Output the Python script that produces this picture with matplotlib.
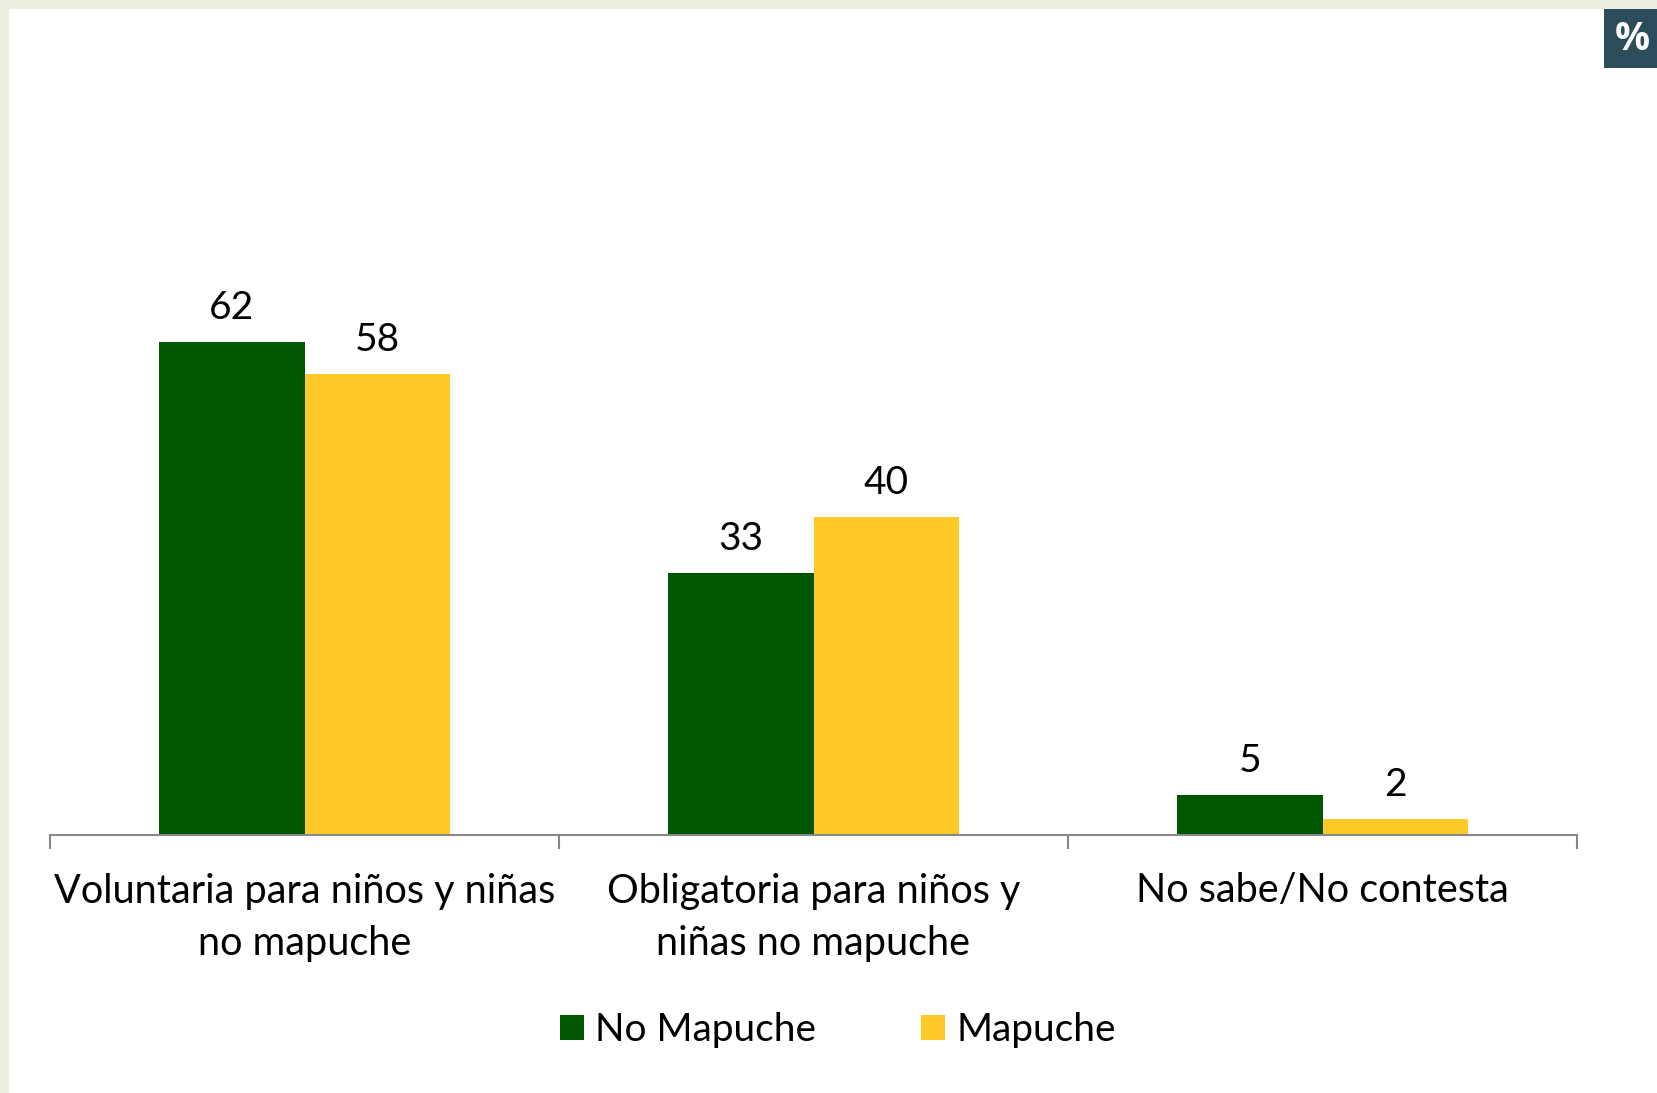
import matplotlib
matplotlib.use("Agg")
import matplotlib.pyplot as plt
from matplotlib.patches import Rectangle, Patch
import numpy as np

categories = ["Voluntaria para niños y niñas\nno mapuche",
              "Obligatoria para niños y\nniñas no mapuche",
              "No sabe/No contesta"]
series_names = ["No Mapuche", "Mapuche"]
no_mapuche = [62, 33, 5]
mapuche = [58, 40, 2]
colors = ["#005700", "#FFCA27"]

plt.rcParams['font.family'] = ['Lato', 'DejaVu Sans']

W, H = 1657, 1093
fig = plt.figure(figsize=(W/100, H/100), dpi=100)
fig.patch.set_facecolor("white")

# decorative border strips
fig.patches.append(Rectangle((0, 1 - 9/H), 1, 9/H, transform=fig.transFigure,
                             facecolor="#EDF0E0", edgecolor="none", zorder=0))
fig.patches.append(Rectangle((0, 0), 9/W, 1, transform=fig.transFigure,
                             facecolor="#EDF0E0", edgecolor="none", zorder=0))
# % box
fig.patches.append(Rectangle((1604/W, 1 - 68/H), 53/W, 59/H, transform=fig.transFigure,
                             facecolor="#2B4D5B", edgecolor="none", zorder=1))
fig.text(1632/W, 1 - 39/H, "%", color="white", fontsize=28, fontweight="bold",
         ha="center", va="center", family=["Open Sans", "DejaVu Sans"])

left, right = 50/W, 1577/W
bottom = (H - 835)/H
top = 1 - 120/H
ax = fig.add_axes([left, bottom, right - left, top - bottom])
ax.set_facecolor("none")

x = np.arange(len(categories))
bw = 0.285
ax.bar(x - bw/2, no_mapuche, bw, color=colors[0], label=series_names[0])
ax.bar(x + bw/2, mapuche, bw, color=colors[1], label=series_names[1])

for xi, v in zip(x - bw/2, no_mapuche):
    ax.annotate(str(v), (xi, v), xytext=(0, 34), textcoords="offset pixels",
                ha="center", va="center", fontsize=28)
for xi, v in zip(x + bw/2, mapuche):
    ax.annotate(str(v), (xi, v), xytext=(0, 34), textcoords="offset pixels",
                ha="center", va="center", fontsize=28)

ax.set_xlim(-0.5, 2.5)
ax.set_ylim(0, 90)
for s in ["top", "right", "left"]:
    ax.spines[s].set_visible(False)
ax.spines["bottom"].set_color("#888888")
ax.spines["bottom"].set_linewidth(1.5)
ax.set_yticks([])
ax.set_xticks([-0.5, 0.5, 1.5, 2.5])
ax.set_xticklabels([])
ax.tick_params(axis="x", which="major", direction="out", length=10, width=1.5, color="#888888")
ax.set_xticks(x, minor=True)
ax.set_xticklabels(categories, minor=True, fontsize=28.5, linespacing=1.5)
ax.tick_params(axis="x", which="minor", length=0, pad=27)

handles = [Patch(facecolor=colors[0]), Patch(facecolor=colors[1])]
fig.legend(handles, series_names, loc="center", bbox_to_anchor=(838/W, 1 - 1030/H),
           ncol=2, frameon=False, fontsize=28, handlelength=0.6, handleheight=0.6,
           handletextpad=0.3, columnspacing=2.7)

fig.savefig("out.png", dpi=100, facecolor="white")
